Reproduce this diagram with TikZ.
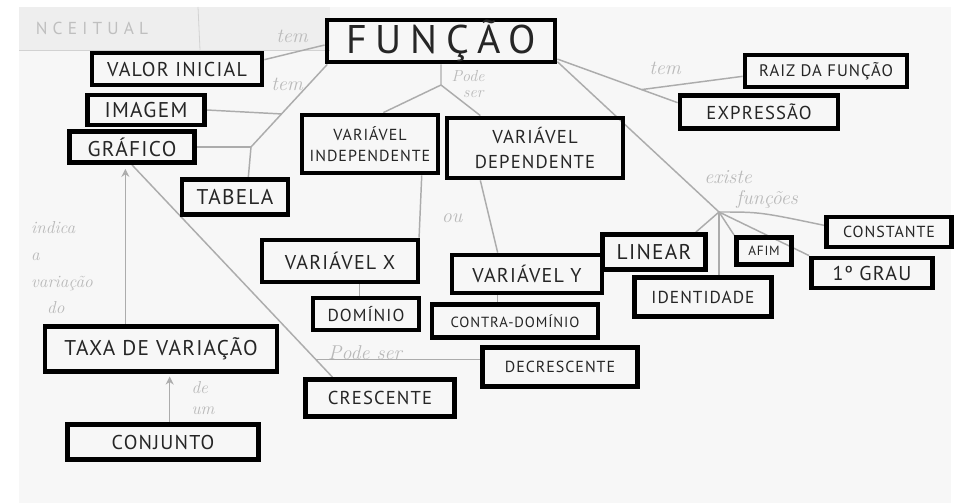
\documentclass[tikz,border=0pt]{standalone}
\usepackage{fontspec}
\newfontfamily\boxfont{PT Sans}[LetterSpace=6]
\newfontfamily\titlefont{PT Sans}[LetterSpace=22]
\newfontfamily\headfont{PT Sans}[LetterSpace=30]
\usetikzlibrary{arrows.meta,calc}
\pgfdeclarelayer{paper}
\pgfdeclarelayer{links}
\pgfsetlayers{paper,links,main}
\begin{document}
\begin{tikzpicture}[x=0.75pt,y=-0.75pt,
  cbox/.style={draw=black,line width=3.6pt,inner sep=0pt,align=center,text=black!85},
  sz/.style 2 args={minimum width=#1*0.75pt,minimum height=#2*0.75pt},
  fs/.style={font=\boxfont\fontsize{#1}{#1}\selectfont},
  link/.style={draw=gray!65,line width=1.1pt},
  tip/.style={-{Stealth[open,length=6pt,width=6pt]}},
  lab/.style={text=gray!55,inner sep=0pt,font=\itshape\fontsize{15}{15}\selectfont}]

\useasboundingbox (0,0) rectangle (955,503);

% sheet of paper and its printed header strip
\begin{pgfonlayer}{paper}
  \fill[white] (0,0) rectangle (955,503);
  \fill[gray!6] (19,7) rectangle (951,503);
  \fill[gray!13] (19,7) rectangle (330,50);
  \draw[gray!35,line width=0.6pt] (19,50) -- (330,50);
  \draw[gray!35,line width=0.6pt] (198,7) -- (200,50);
\end{pgfonlayer}
\node[text=gray!50,font=\headfont\fontsize{13}{13}\selectfont] (head) at (92,28) {NCEITUAL};

% concepts
\node[cbox,sz={228}{42},font=\titlefont\fontsize{30}{30}\selectfont] (funcao) at (441,41) {FUNÇÃO};
\node[cbox,sz={170}{32},fs=15] (valor) at (177,69) {VALOR INICIAL};
\node[cbox,sz={117}{30},fs=16] (imagem) at (146,110) {IMAGEM};
\node[cbox,sz={125}{31},fs=16] (grafico) at (132,147) {GRÁFICO};
\node[cbox,sz={106}{35},fs=16] (tabela) at (235,197) {TABELA};
\node[cbox,sz={136}{58},font=\boxfont\fontsize{12}{16}\selectfont] (varind) at (370,144) {VARIÁVEL\\INDEPENDENTE};
\node[cbox,sz={176}{60},font=\boxfont\fontsize{14}{19}\selectfont] (vardep) at (535,148) {VARIÁVEL\\DEPENDENTE};
\node[cbox,sz={162}{32},fs=12.5] (raiz) at (826,71) {RAIZ DA FUNÇÃO};
\node[cbox,sz={158}{33},fs=14] (expressao) at (759,112) {EXPRESSÃO};
\node[cbox,sz={125}{30},fs=12] (constante) at (889,232) {CONSTANTE};
\node[cbox,sz={121}{30},fs=15] (grau) at (872,273) {1º GRAU};
\node[cbox,sz={103}{35},fs=16] (linear) at (654,252) {LINEAR};
\node[cbox,sz={55}{27},fs=10] (afim) at (764,251) {AFIM};
\node[cbox,sz={137}{39},fs=13] (identidade) at (703,297) {IDENTIDADE};
\node[cbox,sz={156}{42},fs=15] (varx) at (340,261) {VARIÁVEL X};
\node[cbox,sz={150}{38},fs=15] (vary) at (527,274) {VARIÁVEL Y};
\node[cbox,sz={106}{32},fs=13] (dominio) at (366,314) {DOMÍNIO};
\node[cbox,sz={166}{33},fs=11] (contra) at (515,321) {CONTRA-DOMÍNIO};
\node[cbox,sz={155}{39},fs=12] (decrescente) at (560,367) {DECRESCENTE};
\node[cbox,sz={149}{37},fs=14] (crescente) at (380,398) {CRESCENTE};
\node[cbox,sz={232}{45},fs=16] (taxa) at (161,349) {TAXA DE VARIAÇÃO};
\node[cbox,sz={191}{35},fs=15] (conjunto) at (163,442) {CONJUNTO};

% branching points
\coordinate (j1) at (251,147);
\coordinate (j2) at (441,85);
\coordinate (j3) at (719,212);
\coordinate (fsw) at ([xshift=2pt]funcao.south west);
\coordinate (j0) at ($(fsw)!0.6!(j1)$);
\coordinate (fse) at ([yshift=4pt]funcao.south east);
\coordinate (exin) at ([yshift=7pt]expressao.west);
\coordinate (j4) at ($(fse)!0.7!(exin)$);
\coordinate (gb) at ([xshift=-5pt]grafico.south);
\coordinate (crin) at ([xshift=22pt]crescente.north west);
\coordinate (j5) at ($(grafico.south)!0.917!(crin)$);
\coordinate (dn) at ([xshift=-5pt]dominio.north);
\coordinate (cn) at ([xshift=-13pt]contra.north);
\coordinate (cj) at ([xshift=5pt]conjunto.north);

% links
\begin{pgfonlayer}{links}
  \draw[link] ([yshift=-3pt]funcao.west) -- ([yshift=7pt]valor.east);
  \draw[link] (fsw) -- (j1) -- ([xshift=10pt]tabela.north);
  \draw[link] (grafico.east) -- (j1);
  \draw[link] (imagem.east) -- (j0);
  \draw[link] (funcao.south) -- (j2) -- ([xshift=10pt]varind.north);
  \draw[link] (j2) -- ([xshift=-41pt]vardep.north);
  \draw[link] (fse) -- (exin);
  \draw[link] (j4) -- ([yshift=-4pt]raiz.west);
  \draw[link] ([yshift=2pt]funcao.south east) -- (j3) -- (afim.north west);
  \draw[link] (j3) -- ([xshift=-9pt]linear.north east);
  \draw[link] (j3) -- (j3 |- identidade.north);
  \draw[link] (j3) -- (grau.north west);
  \draw[link] (j3) .. controls (760,212) .. ([yshift=5pt]constante.west);
  \draw[link] ([xshift=-14pt]varind.south east) -- ([xshift=-1pt]varx.north east);
  \draw[link] ([xshift=-41pt]vardep.south) -- ([xshift=-22pt]vary.north);
  \draw[link] (dn |- varx.south) -- (dn);
  \draw[link] (cn |- vary.south) -- (cn);
  \draw[link] (grafico.south) -- (crin);
  \draw[link] (j5) -- (j5 -| decrescente.west);
  \draw[link,tip] (gb |- taxa.north) -- ([yshift=-3pt]gb);
  \draw[link,tip] (cj) -- ([yshift=-2pt]cj |- taxa.south);
\end{pgfonlayer}

% link phrases
\node[lab] (l1) at (292,36) {tem};
\node[lab] (l2) at (287,84) {tem};
\node[lab,align=center,font=\itshape\fontsize{12}{12}\selectfont] (l3) at (468,84) {Pode\\\hspace*{8pt}ser};
\node[lab] (l4) at (665,68) {tem};
\node[lab] (l5) at (728,177) {existe};
\node[lab] (l6) at (767,199) {funções};
\node[lab] (l7) at (452,218) {ou};
\node[lab,align=left,font=\itshape\fontsize{13}{20}\selectfont] (l8) at (62,268) {indica\\a\\variação\\\hspace*{12pt}do};
\node[lab,align=left,font=\itshape\fontsize{13}{16}\selectfont] (l9) at (203,398) {de\\um};
\node[lab] (l10) at (365,353) {Pode ser};
\end{tikzpicture}
\end{document}
